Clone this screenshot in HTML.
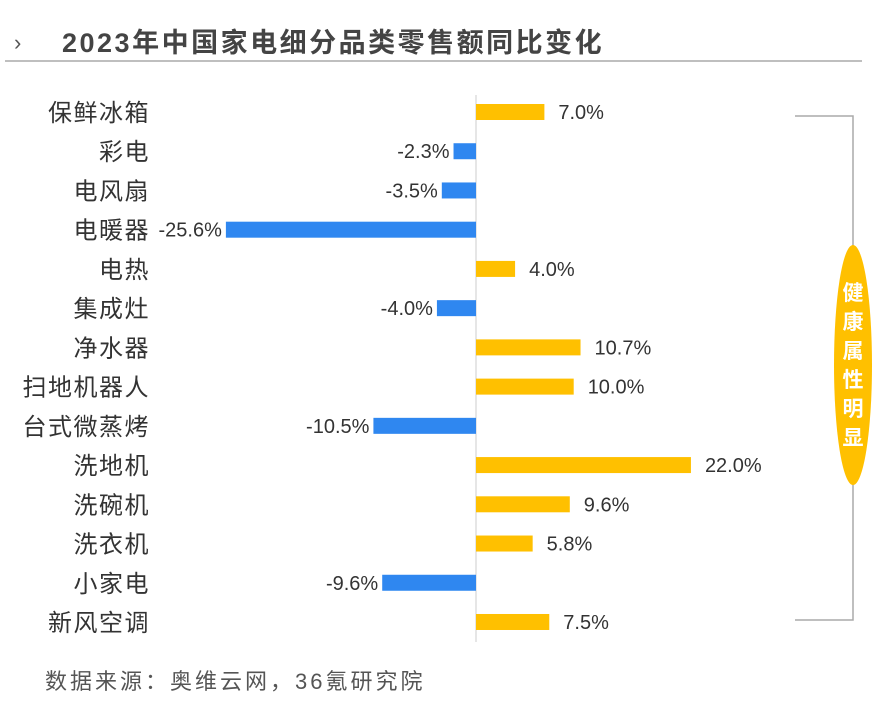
<!DOCTYPE html>
<html><head><meta charset="utf-8"><style>
html,body{margin:0;padding:0;background:#fff;}
body{width:879px;height:700px;overflow:hidden;font-family:"Liberation Sans","Noto Sans CJK SC",sans-serif;}
</style></head><body>
<svg id="chart" width="879" height="700" xmlns="http://www.w3.org/2000/svg" font-family="Liberation Sans, Noto Sans CJK SC, sans-serif">
<text x="14" y="50" font-size="22" fill="#555">›</text>
<text x="62" y="52" font-size="27" font-weight="bold" fill="#444" letter-spacing="2.5">2023年中国家电细分品类零售额同比变化</text>
<line x1="5" y1="61" x2="862" y2="61" stroke="#aaa" stroke-width="1.5"/>
<line x1="476" y1="95" x2="476" y2="642" stroke="#ccc" stroke-width="1"/>
<g id="bars"></g>
<path d="M795 116 H853 V620 H795" fill="none" stroke="#aaa" stroke-width="1.5"/>
<ellipse cx="853" cy="365" rx="19" ry="120" fill="#FFC000"/>
<text x="853" y="300" font-size="21" font-weight="bold" fill="#fff" text-anchor="middle">
<tspan x="853" dy="0">健</tspan><tspan x="853" dy="29">康</tspan><tspan x="853" dy="29">属</tspan><tspan x="853" dy="29">性</tspan><tspan x="853" dy="29">明</tspan><tspan x="853" dy="29">显</tspan></text>
<text x="45" y="689" font-size="22" fill="#555" letter-spacing="3">数据来源：奥维云网，36氪研究院</text>
</svg>
<script>
const categories=["保鲜冰箱","彩电","电风扇","电暖器","电热","集成灶","净水器","扫地机器人","台式微蒸烤","洗地机","洗碗机","洗衣机","小家电","新风空调"];
const values=[7.0,-2.3,-3.5,-25.6,4.0,-4.0,10.7,10.0,-10.5,22.0,9.6,5.8,-9.6,7.5];
const labels=["7.0%","-2.3%","-3.5%","-25.6%","4.0%","-4.0%","10.7%","10.0%","-10.5%","22.0%","9.6%","5.8%","-9.6%","7.5%"];
const NS="http://www.w3.org/2000/svg";
const x0=476,scale=9.77,y0=112,step=39.23,bh=16;
const xs=v=>x0+v*scale;
const ys=i=>y0+i*step;
const g=document.getElementById('bars');
categories.forEach((c,i)=>{
 const v=values[i],y=ys(i);
 const r=document.createElementNS(NS,'rect');
 
 
 r.setAttribute('x',Math.min(xs(0),xs(v)));
 r.setAttribute('y',y-bh/2);
 r.setAttribute('width',Math.abs(xs(v)-xs(0)));
 r.setAttribute('height',bh);
 r.setAttribute('fill',v>=0?'#FFC000':'#2F87F0');
 g.appendChild(r);
 const t=document.createElementNS(NS,'text');
 
 
 t.setAttribute('y',y+7);
 t.setAttribute('font-size','20');
 t.setAttribute('fill','#333');
 if(v>=0){t.setAttribute('x',xs(v)+14);}else{t.setAttribute('x',xs(v)-4);t.setAttribute('text-anchor','end');}
 t.textContent=labels[i];
 g.appendChild(t);
 const c2=document.createElementNS(NS,'text');
 
 
 c2.setAttribute('x',150);
 c2.setAttribute('y',y+9);
 c2.setAttribute('font-size','24');
 c2.setAttribute('letter-spacing','1.5');
 c2.setAttribute('fill','#333');
 c2.setAttribute('text-anchor','end');
 c2.textContent=c;
 g.appendChild(c2);
});
</script>
</body></html>
